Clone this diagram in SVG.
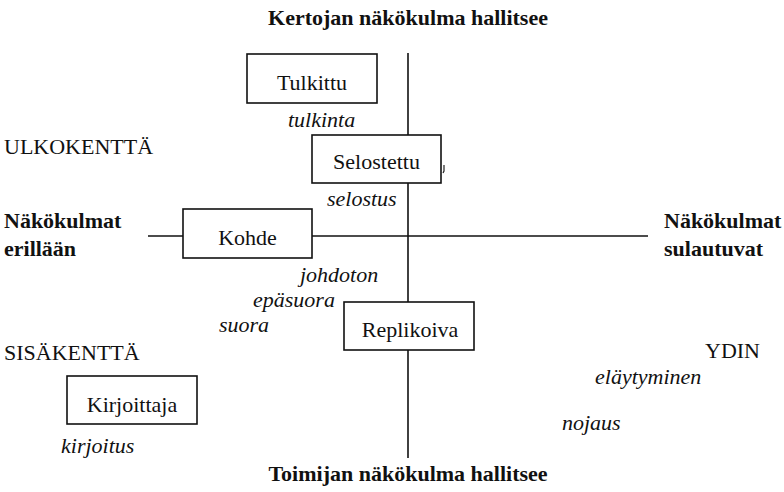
<svg xmlns="http://www.w3.org/2000/svg" width="784" height="492" viewBox="0 0 784 492">
  <style>
    .t { font-family: 'Liberation Serif', 'Times New Roman', 'DejaVu Serif', serif; font-size: 22px; fill: #111; }
    .b { font-weight: bold; }
    .i { font-style: italic; }
    .c { text-anchor: middle; }
    .box { fill: #fff; stroke: #111; stroke-width: 1.6; }
    .axis { stroke: #111; stroke-width: 1.6; fill: none; }
    .tick { stroke: #222; stroke-width: 1.2; fill: none; }
  </style>

  <!-- axes -->
  <g id="connectors">
    <line class="axis" x1="408" y1="53" x2="408" y2="458"/>
    <line class="axis" x1="148" y1="236" x2="648" y2="236"/>
    <path class="tick" d="M444,165 L444,171 L443,173"/>
  </g>

  <g class="t" font-family="Liberation Serif, serif">
    <!-- axis end labels -->
    <text class="b c" x="408" y="25">Kertojan näkökulma hallitsee</text>
    <text class="b c" x="408" y="481">Toimijan näkökulma hallitsee</text>
    <text class="b" x="4" y="228">Näkökulmat</text>
    <text class="b" x="4" y="256">erillään</text>
    <text class="b" x="664" y="228">Näkökulmat</text>
    <text class="b" x="664" y="256">sulautuvat</text>

    <!-- field labels -->
    <text x="4" y="154">ULKOKENTTÄ</text>
    <text x="4" y="360">SISÄKENTTÄ</text>
    <text x="705" y="358">YDIN</text>

    <!-- nodes -->
    <g id="tulkittu">
      <rect class="box" x="247" y="54" width="130" height="49"/>
      <text class="c" x="312" y="90">Tulkittu</text>
    </g>
    <g id="selostettu">
      <rect class="box" x="312" y="135" width="129" height="48"/>
      <text class="c" x="376.5" y="169">Selostettu</text>
    </g>
    <g id="kohde">
      <rect class="box" x="183" y="209" width="129" height="49"/>
      <text class="c" x="247.5" y="245">Kohde</text>
    </g>
    <g id="replikoiva">
      <rect class="box" x="344" y="302" width="130" height="48"/>
      <text class="c" x="410" y="337">Replikoiva</text>
    </g>
    <g id="kirjoittaja">
      <rect class="box" x="67" y="376" width="130" height="48"/>
      <text class="c" x="132" y="412">Kirjoittaja</text>
    </g>

    <!-- mode labels -->
    <text class="i" x="288" y="127">tulkinta</text>
    <text class="i" x="327" y="206">selostus</text>
    <text class="i" x="300" y="282">johdoton</text>
    <text class="i" x="253" y="307">epäsuora</text>
    <text class="i" x="219" y="332">suora</text>
    <text class="i" x="595" y="384">eläytyminen</text>
    <text class="i" x="562" y="430">nojaus</text>
    <text class="i" x="61" y="453">kirjoitus</text>
  </g>
</svg>
